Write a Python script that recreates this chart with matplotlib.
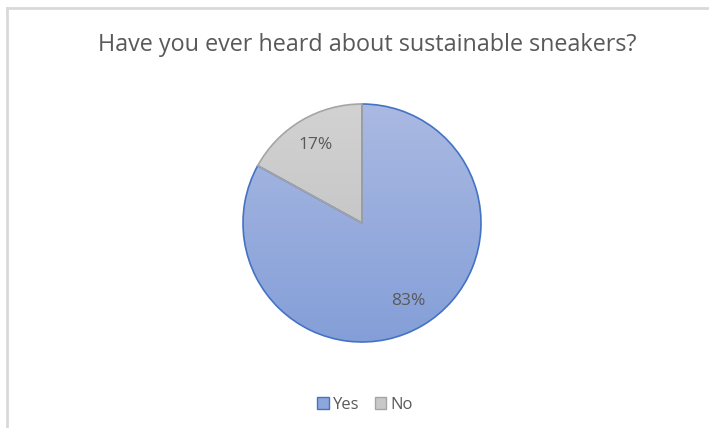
import matplotlib.pyplot as plt
import matplotlib.patches as mpatches
import numpy as np

# ── Data ─────────────────────────────────────────────────────────────────────
title = "Have you ever heard about sustainable sneakers?"
labels = ["Yes", "No"]
values = [83, 17]
face_top = ["#aab9e2", "#d2d2d2"]
face_bottom = ["#849fd8", "#bdbdbd"]
edges = ["#4472c4", "#a5a5a5"]

plt.rcParams['font.family'] = ['Open Sans', 'DejaVu Sans']
text_color = "#595959"

fig = plt.figure(figsize=(7.09, 4.28), dpi=100)

# chart frame (light grey border, open to the right and bottom)
fig.add_artist(plt.Line2D([7.5 / 709, 7.5 / 709], [0, 1 - 8 / 428],
                          color="#d9d9d9", lw=2, transform=fig.transFigure))
fig.add_artist(plt.Line2D([7.5 / 709, 1], [1 - 8 / 428, 1 - 8 / 428],
                          color="#d9d9d9", lw=2, transform=fig.transFigure))

fig.text(367 / 709, 1 - 45 / 428, title, ha="center", va="center",
         fontsize=16.8, color=text_color)

# pie axes: centre (362, 223) px, radius 119 px
cx, cy, r = 362, 223, 119
ax = fig.add_axes([(cx - r) / 709, (428 - cy - r) / 428, 2 * r / 709, 2 * r / 428])
wedges, texts, autotexts = ax.pie(
    values, startangle=90, counterclock=False, radius=1,
    colors=face_top, autopct="%1.0f%%", pctdistance=0.76,
    wedgeprops=dict(linewidth=1.2),
    textprops=dict(color=text_color, fontsize=12.5),
)
ax.set_xlim(-1, 1)
ax.set_ylim(-1, 1)
ax.set_aspect("equal")
ax.axis("off")

# vertical gradient fill clipped to each wedge
grad = np.linspace(0, 1, 256).reshape(-1, 1)
for w, top, bot, ec in zip(wedges, face_top, face_bottom, edges):
    t = np.array(plt.matplotlib.colors.to_rgb(top))
    b = np.array(plt.matplotlib.colors.to_rgb(bot))
    img = t[None, None, :] * (1 - grad[..., None]) + b[None, None, :] * grad[..., None]
    im = ax.imshow(img, extent=(-1, 1, -1, 1), origin="upper", zorder=w.get_zorder() - 0.1,
                   aspect="auto")
    im.set_clip_path(w)
    w.set_facecolor("none")
    w.set_edgecolor(ec)
    w.set_clip_on(False)

for t in autotexts:
    t.set_zorder(5)

handles = [mpatches.Patch(facecolor=c, edgecolor=e, label=l)
           for c, e, l in zip(["#8ea7db", "#c8c8c8"], edges, labels)]
fig.legend(handles=handles, loc="center", bbox_to_anchor=(365 / 709, 1 - 405 / 428),
           ncol=2, frameon=False, fontsize=12, labelcolor=text_color,
           handlelength=0.7, handleheight=0.7, handletextpad=0.25, columnspacing=0.9)

fig.savefig("out.png", dpi=100)
